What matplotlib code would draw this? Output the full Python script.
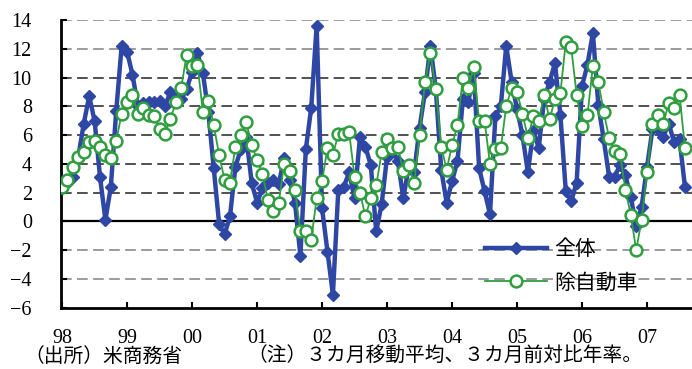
import numpy as np
from matplotlib import pyplot as plt

# 月次データ (1998年1月〜2007年8月)、3カ月移動平均・3カ月前対比年率 (%)
total = [2.3, 2.7, 3.1, 4.5, 6.8, 8.7, 7.0, 3.1, 0.1, 2.4, 7.7, 12.2,
         11.8, 10.2, 8.0, 8.2, 8.3, 8.3, 8.4, 8.0, 9.0, 8.6, 8.5, 9.2,
         10.4, 11.7, 10.3, 7.6, 3.7, -0.2, -0.9, 0.35, 3.8, 5.0, 5.9, 2.7,
         1.3, 2.3, 2.7, 2.9, 2.6, 4.4, 2.9, 1.3, -2.4, 5.0, 7.9, 13.6,
         0.9, -2.1, -5.1, 2.2, 2.4, 3.4, 1.6, 5.9, 5.2, 3.9, -0.7, 1.2,
         4.5, 4.9, 4.2, 1.6, 3.8, 3.4, 6.5, 9.0, 12.2, 9.2, 3.6, 1.3,
         2.8, 4.2, 8.5, 8.3, 10.3, 3.7, 2.1, 0.5, 7.3, 8.0, 12.2, 9.7,
         7.8, 6.0, 3.4, 6.3, 5.1, 8.5, 9.7, 11.0, 7.4, 2.1, 1.4, 2.7,
         9.4, 10.9, 13.1, 8.1, 5.7, 3.1, 3.1, 3.9, 3.2, 1.7, -0.35, 1.0,
         3.8, 6.4, 6.4, 5.9, 6.8, 5.5, 5.7, 2.4]
ex_auto = [2.4, 2.9, 3.8, 4.5, 4.8, 5.5, 5.6, 5.2, 4.6, 4.4, 5.6, 7.5,
           8.3, 8.8, 7.5, 7.9, 7.4, 7.3, 6.4, 6.1, 7.1, 8.3, 9.3, 11.6,
           10.8, 10.9, 7.6, 8.4, 6.7, 4.6, 2.9, 2.7, 5.2, 6.0, 6.9, 5.3,
           4.3, 3.3, 1.5, 0.7, 1.3, 4.0, 3.5, 2.2, -0.7, -0.7, -1.3, 1.6,
           2.8, 5.1, 4.6, 6.1, 6.1, 6.2, 3.1, 2.0, 0.35, 1.6, 2.5, 4.8,
           5.7, 5.1, 5.2, 3.5, 3.9, 2.7, 6.0, 9.7, 11.7, 9.2, 5.2, 3.6,
           5.3, 6.7, 10.0, 9.3, 10.7, 7.0, 7.0, 4.0, 5.0, 5.1, 8.0, 9.3,
           9.0, 7.5, 5.8, 7.3, 7.0, 8.8, 7.1, 8.5, 8.9, 12.5, 12.1, 8.8,
           6.6, 7.4, 10.8, 9.7, 7.6, 5.8, 4.9, 4.7, 2.2, 0.45, -2.0, 0.1,
           3.4, 6.8, 7.4, 6.8, 8.2, 7.9, 8.8, 5.1]
years = ["98", "99", "00", "01", "02", "03", "04", "05", "06", "07"]
yticks = [-6, -4, -2, 0, 2, 4, 6, 8, 10, 12, 14]

jp = ['Noto Sans CJK JP', 'DejaVu Sans']
num = 'Liberation Serif'

fig = plt.figure(figsize=(6.92, 3.69), dpi=100)
ax = fig.add_axes([61/692, 1-307.7/369, 1-61/692, (307.7-20)/369])

m = np.arange(len(total))

# 横の点線
for v in [14, 12, 10, 8, 6, 4, 2, -2, -4]:
    c = '#222222' if 0 < v <= 10 else '#808080'
    ln = ax.axhline(v, color=c, lw=1.1, zorder=1)
    ln.set_dashes((7, 3.5))
ax.axhline(0, color='black', lw=1.6, zorder=1)

ax.plot(m, total, color='#2E46A4', lw=3.2, marker='D', ms=6.5,
        markerfacecolor='#2E46A4', markeredgecolor='#2E46A4', label='全体', zorder=3)
ax.plot(m, ex_auto, color='#2F9E3F', lw=1.3, marker='o', ms=8.5,
        markerfacecolor='white', markeredgecolor='#2F9E3F', markeredgewidth=1.8,
        label='除自動車', zorder=4)

ax.set_xlim(-0.2, 116.3)
ax.set_ylim(-6, 14)
ax.set_yticks(yticks)
ax.set_yticklabels([str(v).replace('-', '\u2212') for v in yticks], fontname=num, fontsize=14.5)
ax.set_xticks(np.arange(len(years)) * 12)
ax.set_xticklabels(years, fontname=num, fontsize=14.5)
ax.tick_params(axis='y', direction='in', length=4, width=1.5, pad=21)
ax.tick_params(axis='x', direction='in', length=4.5, width=1.5, pad=15)
ax.spines['right'].set_visible(False)
ax.spines['top'].set_visible(False)
ax.spines['left'].set_linewidth(2)
ax.spines['bottom'].set_linewidth(2)

leg = ax.legend(loc='lower left', bbox_to_anchor=(0.642, -0.016), frameon=False,
                prop={'family': jp, 'size': 15}, handlelength=3.0,
                labelspacing=0.55, handletextpad=0.35)

fig.text(0.035, 0.035, '（出所）米商務省', fontfamily=jp, fontsize=14.2, va='center')
fig.text(0.357, 0.035, '（注）３カ月移動平均、３カ月前対比年率。', fontfamily=jp,
         fontsize=14.2, va='center')

fig.savefig('out.png', dpi=100)
